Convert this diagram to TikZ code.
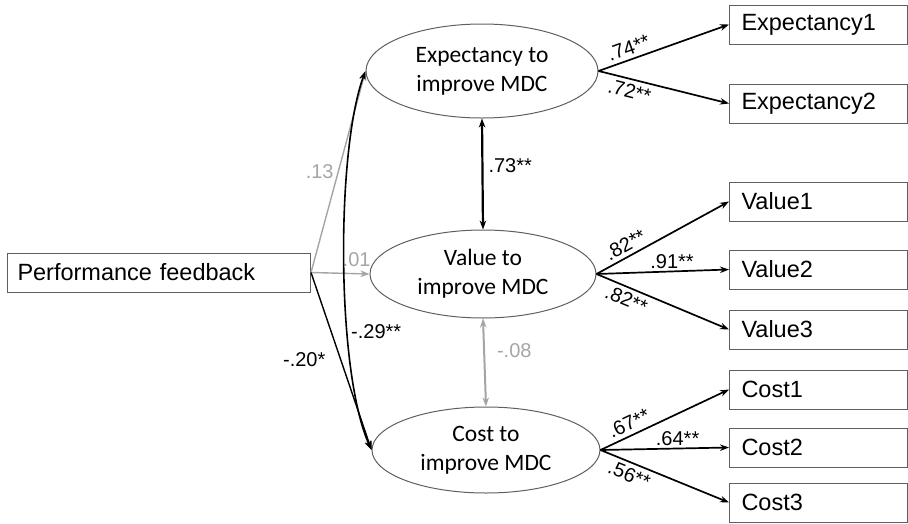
\documentclass[tikz,border=0pt]{standalone}
\usepackage{fontspec}
\setmainfont{Liberation Sans}
\newfontfamily\carlito{Carlito}
\usetikzlibrary{arrows.meta,shapes.geometric}
\definecolor{lgray}{RGB}{165,165,165}
\definecolor{dgray}{RGB}{95,95,95}
\tikzset{
  obsbox/.style={draw=dgray, line width=1pt, rectangle, minimum height=39pt, inner xsep=12pt, inner ysep=0pt, text width=154pt, align=left, font=\fontsize{23.5}{26}\selectfont, anchor=west},
  latent/.style={draw=dgray, line width=1pt, ellipse, inner sep=0pt, align=center, font=\carlito\fontsize{23.5}{29}\selectfont},
  tip/.style={-{Stealth[length=9pt,width=6.5pt]}},
  dtip/.style={{Stealth[length=9pt,width=6.5pt]}-{Stealth[length=9pt,width=6.5pt]}},
  load/.style={tip, line width=1.7pt, black},
  path1/.style={tip, line width=1.4pt},
  lab/.style={font=\fontsize{20}{22}\selectfont, inner sep=2pt},
  slab/.style={lab, inner sep=4pt},
}
\begin{document}
\begin{tikzpicture}[x=1pt,y=-1pt]
\useasboundingbox (0,0) rectangle (908,523);
% observed
\node[obsbox, text width=283pt, inner xsep=10pt] (pf) at (7,272.5) {Performance feedback};
\node[obsbox] (e1) at (729,24.5) {Expectancy1};
\node[obsbox] (e2) at (729,103.5) {Expectancy2};
\node[obsbox] (v1) at (729,201.5) {Value1};
\node[obsbox] (v2) at (729,269.5) {Value2};
\node[obsbox] (v3) at (729,329.5) {Value3};
\node[obsbox] (c1) at (729,389.5) {Cost1};
\node[obsbox] (c2) at (729,447.5) {Cost2};
\node[obsbox] (c3) at (729,502.5) {Cost3};
% latent
\node[latent, minimum width=232pt, minimum height=94pt] (exp) at (482,71) {Expectancy to\\improve MDC};
\node[latent, minimum width=226pt, minimum height=88pt] (val) at (483,274) {Value to\\improve MDC};
\node[latent, minimum width=228pt, minimum height=86pt] (cost) at (486,450) {Cost to\\improve MDC};
% loadings
\draw[load] (exp.east) -- node[slab, pos=0.26, above, sloped] {.74**} (e1.west);
\draw[load] (exp.east) -- node[slab, pos=0.26, below, sloped] {.72**} (e2.west);
\draw[load] (val.east) -- node[slab, pos=0.26, above, sloped] {.82**} (v1.west);
\draw[load] (val.east) -- node[lab, pos=0.57, above] {.91**} (v2.west);
\draw[load] (val.east) -- node[slab, pos=0.26, below, sloped] {.82**} (v3.west);
\draw[load] (cost.east) -- node[slab, pos=0.26, above, sloped] {.67**} (c1.west);
\draw[load] (cost.east) -- node[lab, pos=0.6, above] {.64**} (c2.west);
\draw[load] (cost.east) -- node[slab, pos=0.26, below, sloped] {.56**} (c3.west);
% correlations between latents
\draw[dtip, line width=2.2pt, black] (exp.south) -- node[lab, pos=0.42, anchor=west, xshift=3pt] {.73**} (val.north);
\draw[dtip, line width=2pt, lgray] (val.south) -- node[lab, pos=0.36, anchor=west, xshift=10pt, text=lgray] {-.08} (cost.north);
% structural paths
\draw[path1, lgray] (pf.east) -- node[lab, pos=0.5, anchor=east, xshift=-2pt, text=lgray] {.13} (exp.west);
\draw[path1, lgray] (pf.east) -- node[lab, pos=0.78, anchor=south, yshift=4pt, text=lgray] {.01} (val.west);
\draw[path1, black] (pf.east) -- node[lab, pos=0.48, anchor=east, xshift=-12pt, yshift=-2pt] {-.20*} (cost.west);
\draw[dtip, line width=1.6pt, black] (exp.west) .. controls (336,150) and (336,372) .. node[lab, pos=0.66, anchor=west, xshift=1pt] {-.29**} (cost.west);
\end{tikzpicture}
\end{document}
